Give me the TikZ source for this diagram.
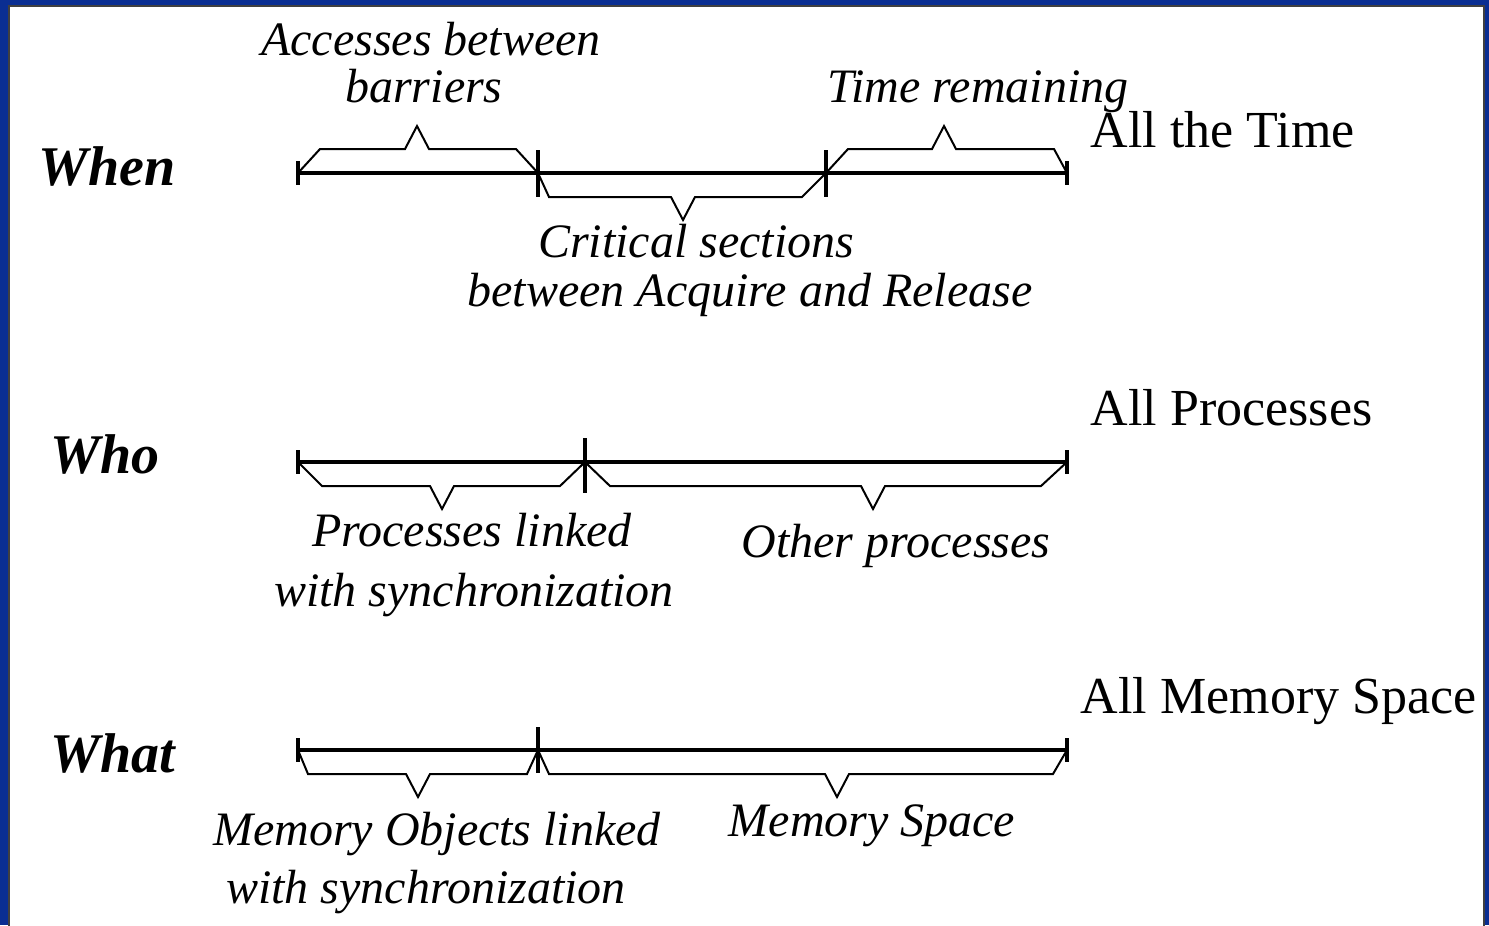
\documentclass[tikz,border=0pt]{standalone}
\usepackage{fontspec}
\setmainfont{Liberation Serif}
\usepackage{xcolor}
\definecolor{slideBlue}{HTML}{0A2E92}
\definecolor{frameGray}{gray}{0.25}
\usepackage{tikz}
\usetikzlibrary{calc}

% brace along a line: start x, left slant, peak x, right slant, end x, line y, side (+1 below, -1 above)
\newcommand{\spanbrace}[7]{%
  \draw[bracepath] (#1,#6) -- ({#1+#2},{#6+(#7)*24}) -- ({#3-12},{#6+(#7)*24})
    -- (#3,{#6+(#7)*47}) -- ({#3+12},{#6+(#7)*24}) -- ({#5-#4},{#6+(#7)*24}) -- (#5,#6);}

\begin{document}
\begin{tikzpicture}[x=0.25pt,y=-0.25pt,
  rowlabel/.style={font=\fontsize{14}{16}\selectfont\bfseries\itshape, anchor=base west, inner sep=0pt},
  spanlabel/.style={font=\fontsize{12}{14}\selectfont\itshape, anchor=base, inner sep=0pt},
  totallabel/.style={font=\fontsize{13}{15}\selectfont, anchor=base west, inner sep=0pt},
  timeline/.style={line width=1pt},
  endtick/.style={line width=1pt},
  bracepath/.style={line width=0.5pt, line join=miter}]
  \useasboundingbox (0,0) rectangle (1489,925);
  % slide background and frame
  \fill[slideBlue] (0,0) rectangle (1489,925);
  \draw[frameGray, fill=white, line width=0.5pt] (9,6) rectangle (1484,940);

  % row names
  \node[rowlabel] (whenlbl) at (38,185) {When};
  \node[rowlabel] (wholbl)  at (50,473) {Who};
  \node[rowlabel] (whatlbl) at (50,772) {What};

  % the whole range of each row
  \node[totallabel] (alltime) at (1090,147) {All the Time};
  \node[totallabel] (allproc) at (1090,425) {All Processes};
  \node[totallabel] (allmem)  at (1080,713) {All Memory Space};

  % When: time line
  \coordinate (whenS) at (298,173);
  \coordinate (whenA) at (538,173);
  \coordinate (whenR) at (826,173);
  \coordinate (whenE) at (1067,173);
  \draw[timeline] (whenS) -- (whenE);
  \foreach \x in {298,1067} \draw[endtick] (\x,161) -- (\x,185);
  \foreach \x in {538,826} \draw[endtick] (\x,150) -- (\x,197);
  \spanbrace{298}{22}{417}{22}{538}{173}{-1}
  \spanbrace{538}{11}{683}{24}{826}{173}{1}
  \spanbrace{826}{22}{944}{13}{1067}{173}{-1}
  \node[spanlabel] (acc1) at (431,55) {Accesses between};
  \node[spanlabel] (acc2) at (424,102) {barriers};
  \node[spanlabel] (timerem) at (978,102) {Time remaining};
  \node[spanlabel] (crit1) at (696,257) {Critical sections};
  \node[spanlabel] (crit2) at (750,306) {between Acquire and Release};

  % Who: process line
  \coordinate (whoS) at (298,462);
  \coordinate (whoL) at (585,462);
  \coordinate (whoE) at (1067,462);
  \draw[timeline] (whoS) -- (whoE);
  \foreach \x in {298,1067} \draw[endtick] (\x,450) -- (\x,474);
  \draw[endtick] (585,438) -- (585,493);
  \spanbrace{298}{24}{442}{25}{585}{462}{1}
  \spanbrace{585}{25}{873}{26}{1067}{462}{1}
  \node[spanlabel] (proc1) at (472,546) {Processes linked};
  \node[spanlabel] (proc2) at (474,606) {with synchronization};
  \node[spanlabel] (otherproc) at (896,557) {Other processes};

  % What: memory line
  \coordinate (whatS) at (298,750);
  \coordinate (whatL) at (538,750);
  \coordinate (whatE) at (1067,750);
  \draw[timeline] (whatS) -- (whatE);
  \foreach \x in {298,1067} \draw[endtick] (\x,738) -- (\x,762);
  \draw[endtick] (538,727) -- (538,773);
  \spanbrace{298}{10}{418}{11}{538}{750}{1}
  \spanbrace{538}{11}{837}{14}{1067}{750}{1}
  \node[spanlabel] (memobj1) at (437,845) {Memory Objects linked};
  \node[spanlabel] (memobj2) at (426,903) {with synchronization};
  \node[spanlabel] (memspace) at (872,836) {Memory Space};
\end{tikzpicture}
\end{document}
